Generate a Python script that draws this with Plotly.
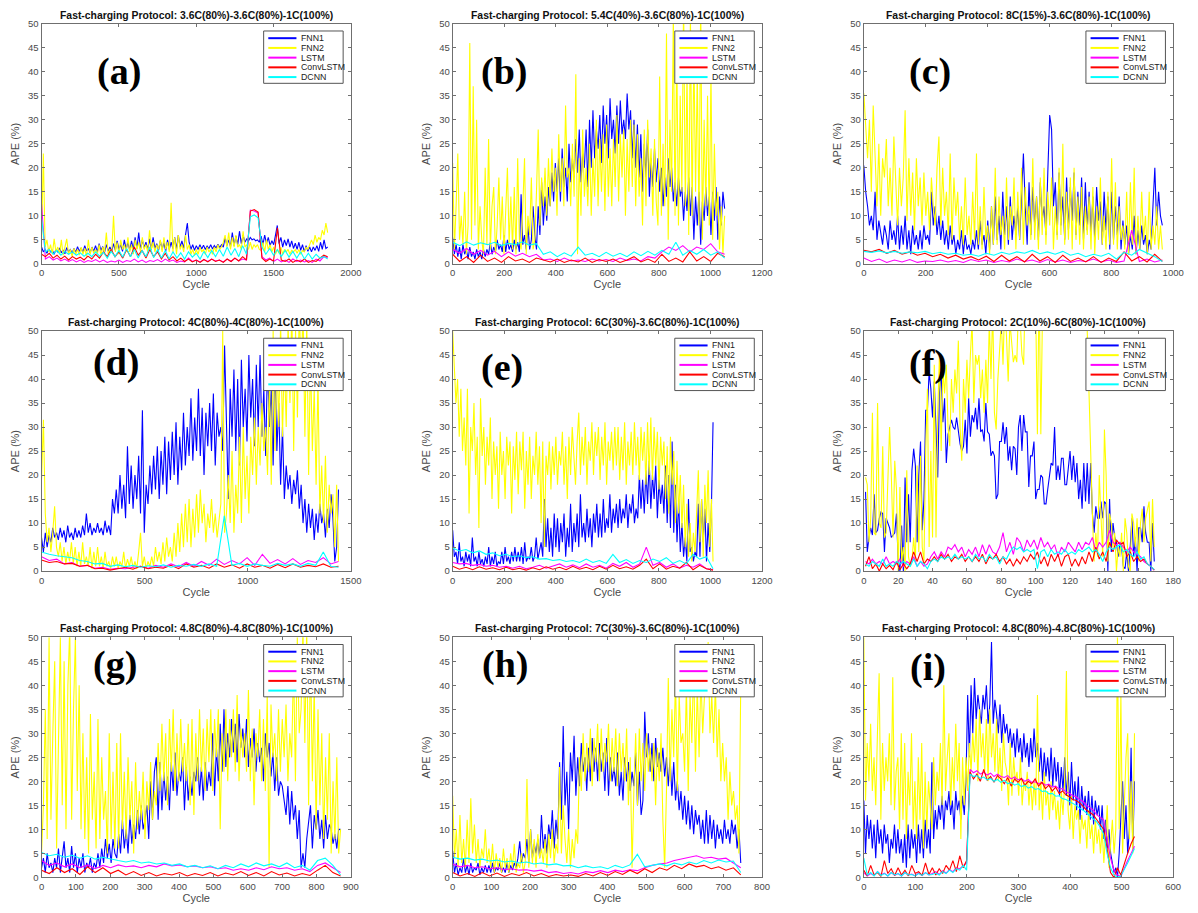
import numpy as np
import plotly.graph_objects as go

# ---------------- metadata ----------------
titles = [
    "Fast-charging Protocol: 3.6C(80%)-3.6C(80%)-1C(100%)",
    "Fast-charging Protocol: 5.4C(40%)-3.6C(80%)-1C(100%)",
    "Fast-charging Protocol: 8C(15%)-3.6C(80%)-1C(100%)",
    "Fast-charging Protocol: 4C(80%)-4C(80%)-1C(100%)",
    "Fast-charging Protocol: 6C(30%)-3.6C(80%)-1C(100%)",
    "Fast-charging Protocol: 2C(10%)-6C(80%)-1C(100%)",
    "Fast-charging Protocol: 4.8C(80%)-4.8C(80%)-1C(100%)",
    "Fast-charging Protocol: 7C(30%)-3.6C(80%)-1C(100%)",
    "Fast-charging Protocol: 4.8C(80%)-4.8C(80%)-1C(100%)",
]
letters = ["(a)", "(b)", "(c)", "(d)", "(e)", "(f)", "(g)", "(h)", "(i)"]
cycle_start = [0, 0, 0, 0, 0, 1, 0, 0, 0]
cycle_end = [1850, 1055, 965, 1440, 1010, 169, 870, 745, 525]
x_max = [2000, 1200, 1000, 1500, 1200, 180, 900, 800, 600]
x_step = [500, 200, 200, 500, 200, 20, 100, 100, 100]
y_max = 50
y_step = 5
series_names = ["FNN1", "FNN2", "LSTM", "ConvLSTM", "DCNN"]
series_colors = ["#0000FF", "#FFFF00", "#FF00FF", "#FF0000", "#00FFFF"]

# ---------------- panel (a) ----------------
a_fnn1 = [3.5,2.5,3.0,2.2,3.2,2.5,2.8,2.0,3.0,2.4,
          3.3,2.3,2.9,2.1,3.4,2.5,3.0,2.2,3.2,2.4,
          3.6,2.6,3.3,2.4,3.8,2.7,3.2,2.3,3.5,2.6,
          3.8,2.5,4.2,2.8,3.6,2.4,4.0,2.7,3.5,2.6,
          4.2,2.8,4.8,3.0,4.0,2.6,5.0,3.0,4.5,2.8,
          4.8,3.0,5.5,3.2,6.5,3.0,5.0,3.4,4.5,3.0,
          5.2,3.0,5.5,3.2,4.2,2.8,4.8,3.0,4.4,2.6,
          5.0,3.0,4.5,3.2,5.5,3.0,6.0,3.5,4.8,3.2,
          6.0,8.5,4.5,3.0,4.0,2.8,3.8,3.0,4.0,3.1,
          3.9,3.0,3.7,3.2,4.0,3.1,3.8,3.3,4.1,3.4,
          4.0,3.5,5.5,3.8,5.0,3.6,6.5,3.8,5.8,4.0,
          6.8,4.2,6.0,4.5,5.2,4.8,5.5,5.0,5.2,4.8,
          5.0,4.5,5.8,4.0,6.0,4.2,5.5,3.8,4.8,4.0,
          6.0,8.0,4.2,5.5,3.5,5.0,3.8,5.2,3.5,4.8,
          3.2,4.3,3.0,4.5,2.8,4.0,2.5,3.8,2.6,3.5,
          2.5,3.5,2.8,3.8,2.6,4.5,3.0,5.0,3.2,3.5]
a_fnn2 = [5.0,23.0,3.5,5.0,2.5,4.0,2.0,5.2,2.5,3.5,
          2.0,5.0,1.8,3.5,5.2,2.0,3.0,1.5,3.2,2.0,
          3.0,1.8,3.5,2.0,3.2,1.5,5.0,2.0,3.5,2.2,
          3.0,2.0,4.0,1.8,3.5,2.5,6.5,2.0,3.0,2.5,
          10.0,2.5,4.5,2.0,5.0,3.0,4.0,2.5,5.5,2.5,
          4.0,2.0,5.0,3.0,4.5,2.5,5.5,3.0,4.0,2.5,
          7.0,3.0,4.5,2.5,4.0,3.0,5.0,2.5,5.5,3.0,
          4.5,2.5,12.7,2.5,5.5,2.0,6.0,3.0,4.0,2.5,
          6.0,3.0,4.0,2.0,3.0,1.8,3.0,2.0,3.5,2.5,
          3.0,2.0,3.5,2.5,3.0,2.0,3.5,2.5,4.0,3.0,
          3.5,4.5,6.0,3.5,6.5,3.0,5.5,3.5,6.0,3.5,
          4.0,3.0,6.8,3.5,4.0,3.0,4.5,3.0,4.0,3.5,
          4.0,3.0,2.8,4.5,2.5,5.0,3.0,4.0,2.5,3.5,
          2.0,3.0,2.2,3.5,2.0,3.0,2.5,3.0,2.0,2.8,
          2.5,3.0,2.2,3.0,2.0,2.8,2.5,3.5,3.0,4.0,
          5.0,4.0,6.0,4.5,5.5,5.0,7.0,6.0,8.5,6.5]
a_lstm = [12.5,1.0,1.5,0.8,1.2,0.6,1.0,0.5,0.9,0.4,
          0.8,0.3,0.7,0.5,0.9,0.4,0.8,0.3,0.6,0.4,
          0.8,0.3,0.7,0.5,1.0,0.4,0.8,0.3,0.7,0.5,
          0.9,0.4,1.0,0.5,0.8,0.3,0.6,0.4,1.2,0.5,
          0.8,0.4,0.9,0.5,1.0,0.6,0.8,0.4,1.0,0.5,
          1.2,0.6,1.0,0.8,11.2,11.0,10.6,1.5,0.8,1.2,
          0.5,1.0,0.4,0.8,0.3,1.0,0.5,0.8,0.4,0.7,
          0.3,1.0,0.6,1.5,1.3]
a_convlstm = [2.0,1.5,2.2,1.2,1.8,1.0,1.6,0.8,1.5,1.0,
              1.4,0.8,1.6,1.0,2.0,1.2,2.5,1.5,3.0,1.5,
              2.5,1.2,3.0,1.5,3.5,1.8,2.8,1.2,3.0,1.5,
              2.5,1.0,2.2,0.8,1.5,0.6,1.2,0.5,1.0,0.4,
              0.8,0.3,0.9,0.4,1.0,0.5,0.8,0.3,1.0,0.5,
              1.2,0.6,1.5,0.8,11.0,11.3,10.8,1.2,0.5,1.0,
              0.6,7.5,0.8,0.5,1.0,0.3,0.8,0.4,1.0,0.3,
              0.7,0.5,1.2,1.8,1.5]
a_dcnn = [9.5,2.5,3.0,2.0,2.8,1.8,2.6,2.0,2.5,1.8,
          2.3,1.6,2.2,1.5,2.5,1.6,2.4,1.2,2.6,1.5,
          2.8,1.4,3.2,1.5,3.0,1.2,2.8,1.5,3.5,1.3,
          3.0,1.2,2.8,1.0,2.5,1.2,2.3,1.0,2.5,1.4,
          2.2,1.0,2.6,1.3,2.8,1.5,3.0,1.6,3.5,1.8,
          3.2,1.5,3.8,2.0,9.8,10.2,9.6,3.5,2.0,3.2,
          1.8,3.0,1.5,2.8,1.4,2.6,1.2,2.5,1.0,2.2,
          1.0,2.0,1.2,1.5,1.0]

# ---------------- panel (b) ----------------
b_fnn1 = [5.5,2,4,1.5,3.5,1,4,2,3,1,
          3.5,1.5,2.5,1,3,1.5,2.5,1,3,1.5,
          3,2,4.5,2,3.5,2.5,5,3,4,2.5,
          6,2.5,5,3,4,2.5,5,3,4.5,2.5,
          14.5,4,6,3,8,3,5,12,6,3,
          12,6,17,8,14,9,16,12,19,13,
          21,15,22,13,24,16,20,13,25,17,
          22,18,26,19,28,17,23,20,28,16,
          30,20,32,22,28,24,31,21,33,25,
          31,22,34.5,26,30,23,33,25,34,27,
          30,26,35.5,28,32,22,30,20,29,18,
          27,15,25,18,28,14,22,16,24,17,
          22,15,20,12,18,14,22,16,20,13,
          17,12,18,14,16,9,15,11,18,10,
          16,5,14,8,15,4,13,9,16,10,
          14,6,15,9,16,5,14,8,15,11.5]
b_fnn2 = [21,3,12,23,5,10,4,15,2,8,
          46,5,37,8,30,3,12,5,2,20,
          4,26,3,12,16,2,8,18,5,14,
          2,10,20,4,14,3,16,2,22,5,
          3,12,22,2,10,6,18,3,5,15,
          28,8,18,12,20,10,22,12,24,15,
          20,10,27,15,22,12,33,18,20,12,
          25,14,39.5,2,22,10,28,14,20,12,
          25,10,22,14,30,12,26,15,27,11,
          29,14,24,12,26,16,31,13,27,18,
          28,10,26,15,30,16,29,12,27,14,
          22,8,28,12,30,18,24,10,26,13,
          8,39,10,25,12,48,5,30,15,52,
          10,45,8,35,15,55,12,40,6,52,
          10,45,15,40,8,55,5,30,12,35,
          8,40,5,25,10,15,3,12,2,10]
b_lstm = [3.0,2.2,3.2,2.0,2.8,1.8,2.6,1.5,2.5,1.6,
          2.2,1.5,2.0,0.8,1.0,0.5,1.2,0.6,0.8,0.5,
          1.0,0.6,0.9,0.5,1.2,0.7,1.0,0.6,1.5,1.2,
          2.5,3.5,2.8,3.8,2.5,3.5,3.0,4.2,2.5,2.0]
b_convlstm = [2.0,0.5,1.5,0.3,1.8,0.5,1.2,0.3,1.5,0.6,
              1.0,0.3,1.2,0.8,0.4,1.0,0.3,0.8,0.4,1.2,
              0.3,0.9,0.5,1.0,0.3,0.8,1.5,0.4,1.0,0.3,
              2.0,0.5,1.2,0.4,2.5,0.6,1.5,0.5,2.2,1.5]
b_dcnn = [4.5,3.8,4.6,3.9,4.4,4.0,4.5,3.8,4.3,4.0,
          4.6,3.9,4.2,2.0,2.5,1.5,2.3,1.6,3.5,1.8,
          2.2,1.5,2.4,1.6,2.2,1.5,2.5,1.7,2.6,1.8,
          2.8,2.0,4.5,1.8,2.8,2.0,3.0,1.8,2.5,1.2]

# ---------------- panel (c) ----------------
c_fnn1 = [20.5,15,12,8,10,7,15,5,9,6,
          4,8,6,3,9,5,7,4,10,3,
          8,4,10,3,7,2,8,4,6,3,
          7,3,8,5,6,4,15,8,12,6,
          10,5,9,4,7,3,8,4,6,2,
          5,3,7,2,6,3,4,2,5,3,
          7,3,9,4,6,2,9,3,12,4,
          14,5,10,3,15,6,12,4,14,5,
          10,6,12,5,15,23,12,4,17,6,
          16,8,14,5,17,9,12,6,19,31,
          28,12,17,6,19,8,14,5,18,7,
          16,9,19,6,15,8,18,5,17,7,
          15,6,14,5,16,9,13,4,15,7,
          14,3,15,5,12,6,14,3,9,4,
          8,2,6,3,10,2,7,3,8,4,
          6,2,5,3,12,20,8,15,10,8]
c_fnn2 = [35.5,28,22,30,15,33,20,12,25,10,
          22,18,26,12,20,10,26.5,15,8,20,
          12,18,32,9,22,10,19,7,22,12,
          18,8,19,10,15,7,18,12,8,20,
          26.5,8,20,10,15,6,23,5,18,10,
          15,5,12,4,18,6,10,4,15,5,
          23,4,12,3,16,5,8,2,12,4,
          20,4,14,6,10,3,18,5,12,8,
          18,3,15,5,20,4,16,8,12,5,
          22,5,14,3,18,6,20,4,15,8,
          18,3,12,5,20,6,25,4,15,5,
          18,3,20,5,14,4,16,3,12,6,
          14,3,16,2,12,5,18,4,10,3,
          15,4,22,4,17,3,12,5,8,3,
          15,2,17,4,20,2,10,3,15,5,
          10,2,15,3,8,4,12,3,8,3]
c_lstm = [1.2,0.5,1.0,0.3,0.8,0.4,0.9,0.3,0.6,0.5,
          0.8,0.4,0.7,0.3,0.9,0.5,0.8,0.3,0.7,0.4,
          1.0,0.5,0.8,0.3,0.9,0.4,0.8,0.3,0.7,0.5,
          1.0,0.4,0.8,0.3,0.6,7.0,0.5,1.0,0.4,0.8]
c_convlstm = [2.8,2.5,3.0,2.2,2.8,2.0,2.5,1.8,2.2,1.5,
              2.0,1.2,1.8,1.0,1.5,0.8,1.6,0.5,1.8,0.6,
              1.5,0.4,2.0,0.6,1.5,0.3,1.8,0.5,1.2,0.4,
              1.5,0.3,1.2,0.5,2.5,0.6,1.5,0.4,2.0,0.5]
c_dcnn = [2.6,2.4,2.7,2.3,2.6,2.2,2.5,2.3,2.6,2.1,
          2.4,2.0,2.2,1.8,2.0,1.6,2.2,1.8,2.4,2.0,
          2.5,2.2,2.8,2.1,2.5,2.0,2.6,1.8,2.2,1.5,
          2.0,1.6,2.2,1.0,2.4,1.8,3.0,2.2,1.5,0.5]

# ---------------- panel (d) ----------------
d_fnn1 = [7,4,8,5,7.5,6,9,7,8,6.5,
          9,7,8.5,6,9.5,7,8,6.5,9,7,
          8.5,7,9.5,7.5,12,8,10,7.5,9,8,
          10,8,9,7.5,10.5,8,9.5,7.5,15,12,
          17,12,20,13,18,11,26,14,22,13,
          20,15,24,12,33.5,8,18,14,22,16,
          24,17,26,15,25,18,28,16,27,19,
          29,20,31,18,28,21,33,22,30,24,
          36,23,32,25,38,24,34,20,33,26,
          35,25,37,22,33,28,30,25,47,30,
          15,38,28,42,25,40,22,44,30,38,
          27,45,32,40,26,43,30,45,28,38,
          24,44,30,38,22,45,25,35,18,30,
          15,22,17,20,14,19,16,21,13,18,
          10,15,8,14,9,13,6.5,12,8,14,
          10,12,7,13,9,16,11,2,5,17]
d_fnn2 = [19,31.5,12,6,9,4,8,13.5,5,3,
          6,2,5,1.5,4,2,6,1.5,5,1,
          4,1,6,1.5,3,1,5,0.5,4,1,
          5,1,3,0.5,4,1,2,0.5,3,1,
          3,0.5,2,1,4,0.5,2.5,1,3,0.5,
          2,0.5,4,8,1,3,0.5,2,1,3,
          1,5,2,4,1.5,6,2,7,3,5,
          2,8,3,10,4,12,5,14,6,15,
          5,13,7,16,8,17,10,14,6,12,
          9,15,8,12,7,10,14,50,8,12,
          20,10,25,8,18,12,28,10,30,15,
          24,12,28,20,32,18,30,22,35,25,
          30,20,40,18,50,25,45,30,52,28,
          45,30,52,35,55,25,50,32,55,40,
          55,28,52,20,45,25,38,18,40,12,
          22,10,24,8,18,12,16,5,18,2]
d_lstm = [3.0,2.2,2.5,1.5,1.8,1.0,1.2,0.6,0.8,0.4,
          0.6,0.5,0.8,1.0,0.6,1.2,0.8,1.5,0.9,1.8,
          1.0,2.0,1.2,2.5,1.4,2.2,1.5,2.8,1.2,3.5,
          1.6,2.4,1.5,2.6,1.4,2.2,1.8,2.8,1.5,2.0]
d_convlstm = [2.3,1.8,2.0,1.5,1.6,1.0,1.2,0.5,0.6,0.2,
              0.5,0.8,0.4,1.0,0.5,0.8,0.6,1.2,0.5,1.5,
              0.8,1.2,0.6,1.5,0.8,1.3,0.6,1.5,0.8,1.2,
              0.6,1.4,0.7,1.5,0.8,1.2,0.9,1.5,0.8,1.0]
d_dcnn = [4.0,3.5,3.2,3.0,2.8,2.2,2.0,1.5,1.6,1.0,
          1.3,0.9,1.2,0.8,1.1,0.9,1.3,0.8,1.2,1.0,
          1.4,1.0,1.5,1.0,11.5,1.2,1.6,1.0,1.5,1.2,
          1.0,1.6,1.2,1.5,1.0,1.6,1.2,4.0,1.0,0.8]

# ---------------- panel (e) ----------------
e_fnn1 = [8.5,3,4,1.5,6,2,3,1,4,2,
          3.5,1,7,2,3,1,4,1.5,2.5,1,
          3,1.5,5,1,3,1.5,4,1,2,1.5,
          4,1.5,5,2,3,1.5,4,2,5,2,
          4,2,5,1.5,6,2,3,2.5,5,2,
          3,7,2.5,4,6,3,15,5,11,4,
          9,3,12,5,11,4,10,6,12,3,
          9,5,14,4,10,6,12,5,16,7,
          10,6,13,7,11,5,12,8,14,7,
          12,7,15,8,11,9,16,8,13,10,
          14,9,15,10,13,11,16,9,14,12,
          16,10,13,11,20,13,19,12,21,14,
          23,13,20,15,22,11,19,14,18,12,
          22,10,20,9,27,8,18,6,15,4,
          10,3,7,2,15,4,5,2,4,3,
          14,3,15,6,13,2,10,4,13,31]
e_fnn2 = [50,42,35,40,28,38,25,32,22,38,
          12,30,25,35,20,28,9,36,24,30,
          18,28,22,32,15,27,20,26,13,29,
          20,25,15,28,22,27,12,26,19,29,
          16,27,21,29,13,25,18,28,15,24,
          20,29,18,26,10,27,5,24,20,27,
          17,26,20,28,18,25,22,29,18,26,
          15,28,20,30,24,18,27,33,20,28,
          22,30,18,27,23,31,20,29,24,30,
          19,28,22,31,18,27,23,29,21,30,
          22,30,19,28,21,31,18,27,22,29,
          20,31,22,28,19,30,23,29,18,31,
          20,32,19,30,22,29,17,28,22,27,
          15,26,12,28,18,25,10,23,12,20,
          9,18,5,14,3,10,2,8,4,12,
          21,6,15,3,18,10,21,5,15,2]
e_lstm = [1.8,1.5,1.6,1.2,1.4,1.0,1.2,0.8,1.0,0.6,
          1.0,0.5,0.8,1.2,0.6,1.0,1.5,0.8,1.3,0.7,
          1.5,0.8,1.2,0.6,1.6,1.0,1.8,0.8,1.5,5.0,
          1.2,1.8,0.8,1.5,0.6,1.2,0.8,1.5,0.5,0.3]
e_convlstm = [1.0,0.4,0.8,0.3,0.9,0.4,0.7,0.3,0.8,0.3,
              0.6,0.2,0.7,0.3,0.9,0.4,0.8,0.3,1.0,0.4,
              0.8,0.3,1.0,0.4,1.2,0.5,0.9,0.4,1.2,2.5,
              0.5,1.5,0.4,1.0,0.6,1.8,0.3,1.2,0.5,0.2]
e_dcnn = [4.8,4.2,4.5,3.8,4.2,3.5,3.8,3.2,3.5,3.0,
          3.2,2.8,3.0,2.5,2.6,2.2,2.4,2.0,2.2,1.8,
          2.5,1.8,2.2,1.6,3.5,1.8,2.4,1.6,2.2,1.8,
          2.5,2.0,2.8,1.6,2.2,1.5,3.5,2.5,3.0,0.5]

# ---------------- panel (f) ----------------
f_fnn1 = [16.5,4,7,9,7.5,16,8,8.5,11,12.3,
          12,4,11,10,9,7,7.5,8,12,2,
          0,9.5,0,19.5,6,16,6,21,25.5,22,
          6,20,27,8.5,15,33.5,33.5,41.5,38,32,
          39.5,30,19.5,37,41.5,31,36,22.5,28.5,30,
          31.5,30,29.5,32,29,26.5,25,26,31.5,24.5,
          36,28,32.5,31,34,29.5,36,29,29.5,27,
          35,29,28.5,24,25,24,15,16,27,27,
          31,26.5,30,23,26,21,26,25.5,20,30,
          32.5,25,32.5,29,29,17.5,24,24,27,15,
          17,17,20,19.5,14,14,17,20,22.5,22,
          30,19,22,19,23.5,23.5,18,18,22,25,
          19,24,18.5,22.5,15,19,13,22.5,14.5,22.5,
          14,22.5,12,8,13.5,11,11,14.5,11,14.5,
          14,0,15,4,10,7,6,3,6,5,
          1,0.5,4,0,5,11,3,7,0,9,
          9,6,13.5,8,6,6,0,10,2]
f_fnn2 = [19.5,18,6,11,33,8,7.5,35,10,9,
          26,7,8,18,30,20,7,23,17,0,
          17.5,2,5,0,21,3,1,2,7,2,
          22,4,24,5,2,25,38,5,25,7,
          43,7,33,45,25,42,37,43,30,26,
          40,33,42,37,48,30,23,40,33,44,
          36,45,52,35,45,43,45,36,42,33,
          44,35,52,40,55,33,29.5,40,45,52,
          43,56,49,39.5,52,47,43.5,45,43.5,55,
          52,45,43,60,52,55,60,58,53,55,
          28.5,60,28.5,55,52,58,55,60,57,55,
          60,56,58,55,60,57,55,58,60,56,
          58,55,60,57,56,58,55,60,56,50,
          35,25,12,2,8,3,20,10,3,29.5,
          20,2,12,10,5,8,0,5,3,8,
          0,11,8,1,0,12,10,5,11,2,
          10,13,6,11,13,14.5,2,15,5]
f_lstm = [2,1.5,2.5,1.5,2,1.5,3,1.5,2,1.5,
          2.5,1,2,1.5,3,1,2,1,1.5,3,
          4,2.5,4,3,5,4.5,5.5,4,5,3,
          4.5,3.5,5,3,5.5,3.5,5.5,4,3.5,5,
          8,4,6,3.5,7,6,4,6.5,5,6.5,
          4.5,7,5,6,4.5,5.5,3,5,4,6,
          5,4,6,4.5,6,5.5,7,4,6,5,
          6,8.5,6,5.5,6,5,4,5,4,3.5,
          3,2,1.5,1,0.2]
f_convlstm = [1,3,0.5,1.5,0,1.5,0.5,1.2,0.3,2,
              0.3,1.5,0.5,1.5,4,2,4,1.5,2.5,2,
              3,2,3.5,2.5,3.5,2,3,2.5,3.5,2,
              3,2,3,2,3.5,1.5,3,2.5,3.5,2,
              3,1.5,2.5,1,2.5,1.5,3,2,3.5,2.5,
              4,1.5,3,1,3.5,2,3.5,1,3,3.5,
              1,2.5,1,3,1.5,4,2,5,2.5,4,
              2,6,4,6.5,5.5,6,3,4,2,3,
              2,2.5,1.5,1,0.2]
f_dcnn = [1.5,1,2,1.5,1,2.5,1,1.5,1,2,
          1.5,2,1.5,1,2.5,1,2,1.5,0.5,2,
          2.5,2,3,2.5,3,2.5,3.5,2.5,3,2.5,
          3,2,3.5,2.5,3,2,3.5,2.5,3,1.5,
          3,2.5,4,5,4.5,5,4,4.5,4,4.5,
          0.5,4,4.5,3,4.5,3.5,4,3.5,4.5,3.5,
          4,3.5,4.5,4,4.5,5,4,4.5,3.5,2,
          4,5,4.5,5,5.5,4,4.5,3.5,3,4,
          2.5,3,1.5,1,0.3]

# ---------------- panel (g) ----------------
g_fnn1 = [2,4,1,5,2,3,1,4,2,6,
          1,5,7.5,2,4,1,6.5,2,5,1,
          4,2,5,1,3,2,4,1,3,2,
          5,2,6,3,8,4,7,3,8,5,
          4,9,5,12,6,10,5,13,7,11,
          8,14,9,15,10,12,15,8,20,12,
          22,25,12,24,14,22,16,21,14,24,
          18,26,17,22,20,25,14,23,16,21,
          17,22,20,25,17,23,16,24,18,22,
          19,30,17,27,20,32,22,35,23,30,
          25,33,26,32,24,34,27,31,25,33,
          23,29,25,31,22,28,24,27,20,30,
          25,28,21,26,18,25,17,20,19,16,
          13,19,11,18,12,15,8,14,2,5,
          2,8,12,15,6,13,10,14,8,12,
          6,13,8,11,10,7,9,6,10,10]
g_fnn2 = [5,15,35,8,50,12,30,45,6,25,
          50,15,45,10,40,52,12,35,50,18,
          40,10,30,8,25,5,34,12,22,6,
          33,8,25,12,18,5,30,8,22,6,
          28,6,30,10,22,8,25,12,20,5,
          24,10,18,12,22,8,20,14,24,12,
          18,15,28,18,32,20,30,15,33,22,
          35,18,30,20,33,22,28,20,32,15,
          33,13,30,20,35,22,31,18,33,24,
          35,18,33,25,35,10,30,22,35,20,
          33,25,35,22,38,20,31,25,30,22,
          39,20,31,15,30,25,35,20,33,18,
          38,2,36,25,30,20,35,22,33,25,
          36,20,30,25,45,20,50,30,35,52,
          28,52,15,48,20,40,10,35,15,30,
          8,25,12,30,5,20,8,25,5,10]
g_lstm = [3.5,2.5,3.0,2.2,2.8,2.0,2.6,1.8,2.5,2.0,
          2.6,2.2,2.4,2.0,2.5,2.2,2.8,2.4,2.6,2.2,
          2.4,2.0,2.2,1.8,2.0,1.5,1.8,1.5,2.0,1.6,
          2.2,1.8,2.0,1.5,1.8,1.2,2.5,3.0,2.0,1.0]
g_convlstm = [1.5,0.8,2.0,1.0,1.8,0.6,2.2,1.0,2.0,0.8,
              1.5,0.5,1.2,0.4,1.0,0.3,0.8,0.5,1.0,0.3,
              0.8,0.4,1.0,0.3,0.9,0.5,1.2,0.4,1.0,0.3,
              1.2,0.5,0.9,0.3,0.8,0.4,1.5,2.5,1.0,0.3]
g_dcnn = [5.2,4.5,4.8,4.2,4.6,4.0,4.5,3.8,4.2,3.8,
          3.5,3.2,3.5,3.0,3.2,2.8,3.0,2.5,2.8,2.2,
          2.5,2.0,2.4,1.8,2.5,2.0,2.8,2.2,3.0,2.4,
          2.8,2.2,3.0,2.0,2.5,1.5,3.5,4.0,2.5,0.5]

# ---------------- panel (h) ----------------
h_fnn1 = [5.5,1,3,0.5,2,1,4,1,2.5,0.5,
          3,1,2,1.5,3,0.5,2,1,2.5,1,
          2.5,1,3,1,2,1.5,3,1,2,1,
          3,1,2.5,1.5,3,2,4,7.5,3,5,
          4,8,3,10,4,7,5,8,4,13,
          6,9,5,11,8,14,6,12,8,24,
          12,31.5,15,22,10,26,20,29.5,17,25,
          19,28,22,25,18,27,20,29,22,27,
          20,28,22,26,18,29,17,25,20,23,
          19,26,17,22,16,25,20,24,18,22,
          19,26,15,22,13,16,34.5,25,30,22,
          28,20,29,23,26,22,27,21,25,19,
          25,17,24,16,20,14,18,12,17,11,
          16,10,15,9,14,11,13,8,12,7,
          14,7,13,8,12,6,11,8,10,7,
          12,8,10,7,12,9,11,6,10,3]
h_fnn2 = [17,4,10,2,13,3,8,2,12,3,
          16.5,5,11,3,8,2,6,4,10,3,
          6,2,7,1,5,2,4,1,6,2,
          4,1,5,2,7,1,3,2,5,1,
          3,20.5,2,10,3,8,2,9,4,6,
          3,8,2,9,4,10,3,7,5,23,
          5,15,8,3,10,2,8,4,10,7,
          25,18,30,20,28,22,31,19,29,24,
          32,20,31,22,28,24,32,20,29,22,
          31,19,30,22,28,20,31,15,25,2,
          18,30,15,31,20,28,18,30,22,27,
          20,28,15,27,20,30,12,2,18,41.5,
          20,35,25,42,18,38,28,30,22,40,
          18,38,28,45,22,40,25,42,30,38,
          40,49,30,38,28,40,25,35,20,28,
          20,25,12,22,15,18,12,15,5,40]
h_lstm = [2.8,2.2,2.5,2.0,2.2,1.8,2.0,1.6,1.8,1.5,
          1.6,1.3,1.5,1.0,1.2,0.8,1.0,0.7,1.2,1.0,
          1.4,1.0,1.5,1.2,1.6,1.4,2.0,2.5,2.8,3.0,
          3.5,3.8,4.2,4.5,4.0,4.2,3.8,4.0,3.0,2.0]
h_convlstm = [1.0,0.3,0.8,0.2,1.0,0.3,0.9,0.2,0.8,0.4,
              1.0,0.3,0.8,0.2,0.6,0.3,0.5,0.2,0.8,0.3,
              1.0,0.4,1.2,0.6,1.5,0.8,1.8,1.0,2.0,1.5,
              2.5,1.8,2.8,2.2,2.5,1.8,2.2,1.5,2.0,0.5]
h_dcnn = [4.2,3.8,4.0,3.6,3.8,3.4,3.6,3.2,3.4,3.0,
          3.2,2.8,3.0,2.6,2.8,2.4,2.5,2.0,2.4,2.0,
          2.2,1.8,2.5,2.0,2.6,4.8,2.2,2.5,2.8,2.4,
          3.0,2.6,3.2,2.8,3.5,3.0,3.6,3.2,3.4,1.0]

# ---------------- panel (i) ----------------
i_fnn1 = [16,5,13,8,12,6,11,4,12,7,
          10,5,11,7,9,3,8,6,11,5,
          10,5,8,3,9,2,11,4,10,6,
          9,3,11,5,10,4,12,6,10,5,
          24,8,14,10,15,12,17,10,16,14,
          18,13,16,10,18,14,16,12,17,13,
          20,38,25,40,30,41.5,33,38,35,32,
          38,35,40,32,36,49,32,37,34,30,
          36,28,34,30,32,28,31,27,30,25,
          31,26,29,24,30,25,28,23,29,24,
          31,25,28,22,27,20,26,21,25,20,
          27,19,25,20,24,17,23,18,25,17,
          22,15,24,16,20,14,21,12,19,14,
          17,13,18,12,17,11,16,13,15,10,
          15,8,12,6,10,5,3,1,2,0,
          5,12,20,8,15,5,10,27,6,20]
i_fnn2 = [50,16,28,20,32,18,25,15,30,42.5,
          12,28,18,25,20,30,15,41.7,14,22,
          25,10,30,12,28,8,22,15,30,10,
          20,8,25,12,28,6,22,10,20,15,
          10,25,15,22,18,28,15,40,18,25,
          30,15,25,18,32,20,28,8,25,15,
          25,18,28,22,30,24,33,20,35,25,
          30,22,33,20,35,25,30,22,33,20,
          27,18,30,24,22,15,28,17,25,20,
          22,17,25,15,20,18,22,15,20,14,
          20,15,38,14,20,12,22,15,18,12,
          20,14,18,12,16,10,18,13,20,43,
          14,10,17,8,15,12,14,7,13,10,
          12,6,14,8,11,5,12,7,10,5,
          10,3,8,15,2,8,12,5,10,50,
          10,38,5,15,25,30,8,20,5,30]
i_lstm = [1.0,0.3,0.8,0.4,1.2,0.5,0.9,0.3,1.0,0.4,
          0.8,0.3,1.0,0.5,0.7,0.3,0.9,0.4,1.0,0.5,
          0.8,1.2,0.6,1.4,0.9,1.6,1.2,2.0,1.8,2.5,
          3.0,22.5,21.8,22.2,21.5,21.9,21.3,21.7,21.0,21.5,
          21.0,20.8,21.2,20.5,20.9,20.3,20.6,20.0,20.4,19.8,
          19.9,19.5,19.8,19.2,19.4,18.8,19.0,18.4,18.5,17.8,
          17.5,17.0,16.8,16.2,15.8,15.0,14.5,14.0,13.0,12.5,
          12.0,8.0,4.0,1.5,0.5,0.2,2.0,3.5,5.0,6.5]
i_convlstm = [1.5,0.3,2.5,0.5,1.0,0.2,3.5,0.8,1.8,0.4,
              2.0,0.5,1.5,0.3,2.5,0.8,1.2,0.4,3.0,0.6,
              2.0,0.5,1.8,0.8,2.5,1.5,3.5,1.2,4.5,2.0,
              3.5,22.0,20.5,21.5,20.0,22.5,20.2,21.0,19.8,21.2,
              20.5,19.5,20.8,19.0,20.5,19.8,20.6,19.2,20.0,19.5,
              20.5,19.0,19.8,18.5,19.2,18.0,18.8,17.5,18.0,17.2,
              16.8,16.2,16.0,15.5,14.8,14.0,13.5,13.0,12.0,11.0,
              10.0,6.0,1.0,0.0,2.0,0.5,3.0,5.0,7.0,8.5]
i_dcnn = [4.0,0.5,1.0,0.3,1.2,0.4,0.8,0.3,1.0,0.5,
          0.8,0.3,1.0,0.5,0.6,0.3,0.8,0.4,1.0,0.5,
          0.6,0.9,0.5,1.2,0.8,1.5,1.0,1.8,1.5,2.5,
          1.5,21.5,21.0,21.2,20.6,20.9,20.3,20.6,20.0,20.4,
          19.8,20.2,19.5,19.8,19.2,19.5,18.9,19.2,18.6,18.9,
          18.3,18.5,17.9,18.0,17.4,17.5,16.9,17.0,16.4,16.2,
          15.8,15.4,15.0,14.4,14.0,13.4,12.8,12.2,11.5,10.5,
          9.0,5.0,2.0,0.5,0.0,0.3,1.5,3.0,4.5,6.0]

panels = [
    [a_fnn1, a_fnn2, a_lstm, a_convlstm, a_dcnn],
    [b_fnn1, b_fnn2, b_lstm, b_convlstm, b_dcnn],
    [c_fnn1, c_fnn2, c_lstm, c_convlstm, c_dcnn],
    [d_fnn1, d_fnn2, d_lstm, d_convlstm, d_dcnn],
    [e_fnn1, e_fnn2, e_lstm, e_convlstm, e_dcnn],
    [f_fnn1, f_fnn2, f_lstm, f_convlstm, f_dcnn],
    [g_fnn1, g_fnn2, g_lstm, g_convlstm, g_dcnn],
    [h_fnn1, h_fnn2, h_lstm, h_convlstm, h_dcnn],
    [i_fnn1, i_fnn2, i_lstm, i_convlstm, i_dcnn],
]

# ---------------- layout geometry ----------------
W, H = 1198, 913
col_px = [(39, 352), (455, 768), (871, 1184)]
row_px = [(18, 261), (329, 572), (639, 882)]
label_pos = [(0.25, 0.80), (0.166, 0.80), (0.214, 0.80),
             (0.24, 0.87), (0.16, 0.848), (0.208, 0.864),
             (0.236, 0.885), (0.169, 0.885), (0.208, 0.874)]

SANS = "Liberation Sans, Arial, sans-serif"
SERIF = "Liberation Serif, Times New Roman, serif"
AX_COLOR = "#6f6f6f"
TXT_COLOR = "#4a4a4a"

fig = go.Figure()
layout = dict(width=W, height=H, margin=dict(l=0, r=0, t=0, b=0),
              paper_bgcolor="white", plot_bgcolor="white", showlegend=False)
annotations = []
shapes = []

for p in range(9):
    r, c = divmod(p, 3)
    sfx = "" if p == 0 else str(p + 1)
    xd = [col_px[c][0] / W, col_px[c][1] / W]
    yd = [1 - row_px[r][1] / H, 1 - row_px[r][0] / H]
    axis_common = dict(showline=True, linecolor=AX_COLOR, linewidth=1, mirror="ticks",
                       ticks="inside", ticklen=3, tickcolor=AX_COLOR, showgrid=False,
                       zeroline=False, tickfont=dict(family=SANS, size=9.5, color=TXT_COLOR))
    layout["xaxis" + sfx] = dict(domain=xd, range=[0, x_max[p]], tickmode="linear", tick0=0,
                                 dtick=x_step[p], anchor="y" + sfx,
                                 title=dict(text="Cycle", font=dict(family=SANS, size=11, color=TXT_COLOR),
                                            standoff=3),
                                 **axis_common)
    layout["yaxis" + sfx] = dict(domain=yd, range=[0, y_max], tickmode="linear", tick0=0,
                                 dtick=y_step, anchor="x" + sfx,
                                 title=dict(text="APE (%)", font=dict(family=SANS, size=11, color=TXT_COLOR),
                                            standoff=6),
                                 **axis_common)
    for s in range(5):
        vals = panels[p][s]
        xs = np.linspace(cycle_start[p], cycle_end[p], len(vals))
        fig.add_trace(go.Scatter(x=xs, y=vals, mode="lines",
                                 line=dict(color=series_colors[s], width=1.1),
                                 name=series_names[s], xaxis="x" + sfx, yaxis="y" + sfx,
                                 hoverinfo="skip", showlegend=False))
    xr, yr = "x" + sfx + " domain", "y" + sfx + " domain"
    # title
    annotations.append(dict(text="<b>" + titles[p] + "</b>", xref=xr, yref=yr, x=0.5, y=1.0,
                            xanchor="center", yanchor="bottom", yshift=1, showarrow=False,
                            font=dict(family=SANS, size=10.4, color="#111")))
    # panel letter
    annotations.append(dict(text="<b>" + letters[p] + "</b>", xref=xr, yref=yr,
                            x=label_pos[p][0], y=label_pos[p][1], xanchor="center", yanchor="middle",
                            showarrow=False, font=dict(family=SERIF, size=38, color="black")))
    # legend box
    shapes.append(dict(type="rect", xref=xr, yref=yr, x0=0.718, x1=0.975, y0=0.752, y1=0.97,
                       fillcolor="white", line=dict(color="#555", width=1), layer="above"))
    for s in range(5):
        yy = 0.94 - s * 0.0405
        shapes.append(dict(type="line", xref=xr, yref=yr, x0=0.733, x1=0.824, y0=yy, y1=yy,
                           line=dict(color=series_colors[s], width=2), layer="above"))
        annotations.append(dict(text=series_names[s], xref=xr, yref=yr, x=0.832, y=yy,
                                xanchor="left", yanchor="middle", showarrow=False,
                                font=dict(family=SANS, size=8.8, color="#222")))

layout["annotations"] = annotations
layout["shapes"] = shapes
fig.update_layout(**layout)
fig.write_html("out.html")
